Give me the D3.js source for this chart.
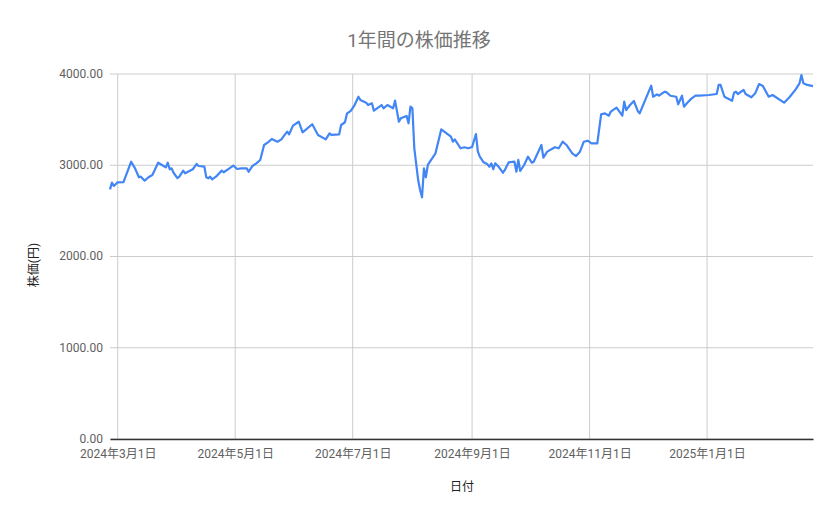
<!DOCTYPE html>
<html>
<head>
<meta charset="utf-8">
<script src="https://cdn.jsdelivr.net/npm/d3@7"></script>
<style>
  body { margin: 0; background: #fff; }
  text { font-family: Roboto, "Noto Sans CJK JP", sans-serif; }
</style>
</head>
<body>
<svg id="chart" width="839" height="519"></svg>
<script>
// dates (approx. positions of the line's corners)
var dates = [
  "2024-02-26","2024-02-27","2024-02-28","2024-03-01","2024-03-04","2024-03-08","2024-03-10","2024-03-12",
  "2024-03-13","2024-03-15","2024-03-17","2024-03-19","2024-03-22","2024-03-24","2024-03-26","2024-03-27",
  "2024-03-28","2024-03-29","2024-03-30","2024-04-01","2024-04-02","2024-04-04","2024-04-05","2024-04-09",
  "2024-04-11","2024-04-12","2024-04-15","2024-04-16","2024-04-17","2024-04-18","2024-04-19","2024-04-21",
  "2024-04-24","2024-04-25","2024-04-28","2024-04-30","2024-05-02","2024-05-04","2024-05-07","2024-05-08",
  "2024-05-10","2024-05-12","2024-05-14","2024-05-16","2024-05-18","2024-05-20","2024-05-23","2024-05-25",
  "2024-05-26","2024-05-28","2024-05-29","2024-05-31","2024-06-03","2024-06-05","2024-06-10","2024-06-13",
  "2024-06-17","2024-06-19","2024-06-20","2024-06-24","2024-06-25","2024-06-27","2024-06-28","2024-06-30",
  "2024-07-02","2024-07-04","2024-07-05","2024-07-08","2024-07-09","2024-07-11","2024-07-12","2024-07-16",
  "2024-07-17","2024-07-19","2024-07-22","2024-07-23","2024-07-25","2024-07-26","2024-07-29","2024-07-30",
  "2024-07-31","2024-08-01","2024-08-02","2024-08-04","2024-08-05","2024-08-06","2024-08-07","2024-08-08",
  "2024-08-09","2024-08-13","2024-08-16","2024-08-21","2024-08-22","2024-08-23","2024-08-26","2024-08-28",
  "2024-08-30","2024-09-01","2024-09-03","2024-09-04","2024-09-05","2024-09-07","2024-09-09","2024-09-10",
  "2024-09-11","2024-09-12","2024-09-13","2024-09-15","2024-09-17","2024-09-18","2024-09-20","2024-09-23",
  "2024-09-24","2024-09-25","2024-09-26","2024-09-28","2024-09-30","2024-10-02","2024-10-03","2024-10-07",
  "2024-10-08","2024-10-10","2024-10-14","2024-10-16","2024-10-18","2024-10-20","2024-10-23","2024-10-25",
  "2024-10-27","2024-10-29","2024-10-31","2024-11-02","2024-11-05","2024-11-07","2024-11-09","2024-11-11",
  "2024-11-12","2024-11-15","2024-11-18","2024-11-19","2024-11-20","2024-11-22","2024-11-24","2024-11-26",
  "2024-11-27","2024-12-03","2024-12-04","2024-12-06","2024-12-07","2024-12-10","2024-12-11","2024-12-13",
  "2024-12-16","2024-12-17","2024-12-19","2024-12-20","2024-12-22","2024-12-24","2024-12-26","2024-12-28",
  "2025-01-02","2025-01-06","2025-01-07","2025-01-08","2025-01-10","2025-01-14","2025-01-15","2025-01-16",
  "2025-01-17","2025-01-20","2025-01-21","2025-01-24","2025-01-26","2025-01-28","2025-01-30","2025-02-02",
  "2025-02-04","2025-02-10","2025-02-13","2025-02-16","2025-02-18","2025-02-19","2025-02-20","2025-02-22",
  "2025-02-25"
];
var prices = [
  2736,2809,2773,2813,2816,3039,2966,2868,
  2875,2831,2868,2893,3028,3003,2977,3028,
  2956,2966,2918,2860,2875,2941,2912,2956,
  3014,2992,2984,2868,2857,2875,2846,2875,
  2941,2923,2966,2997,2959,2966,2966,2929,
  2992,3021,3058,3222,3251,3288,3258,3284,
  3313,3368,3339,3434,3477,3361,3449,3332,
  3284,3350,3332,3339,3441,3471,3565,3596,
  3660,3751,3715,3686,3660,3679,3598,3660,
  3624,3660,3624,3708,3477,3514,3540,3460,
  3642,3624,3186,2838,2729,2649,2966,2868,
  3003,3131,3394,3313,3258,3284,3186,3197,
  3186,3200,3342,3149,3094,3032,3010,2984,
  3021,2956,3021,2977,2918,2948,3032,3039,
  2929,3058,2937,3003,3094,3028,3039,3222,
  3083,3149,3197,3186,3258,3222,3131,3101,
  3149,3258,3269,3240,3240,3558,3569,3543,
  3587,3631,3543,3697,3605,3660,3704,3595,
  3569,3872,3751,3777,3762,3806,3799,3762,
  3751,3668,3762,3642,3690,3733,3762,3762,
  3770,3781,3880,3880,3751,3707,3795,3806,
  3781,3825,3781,3745,3788,3890,3868,3751,
  3770,3686,3751,3832,3898,3989,3898,3880,
  3868
];
var yTicks = [0, 1000, 2000, 3000, 4000];
var xTicks = ["2024-03-01","2024-05-01","2024-07-01","2024-09-01","2024-11-01","2025-01-01"];

var svg = d3.select('#chart');
var m = {top: 74, left: 110, right: 26, bottom: 80};
var W = 839, H = 519;
var parse = d3.timeParse("%Y-%m-%d");
var data = dates.map(function(d, i){ return {date: parse(d), v: prices[i]}; });

var x = d3.scaleTime()
  .domain([parse("2024-02-26"), parse("2025-02-25")])
  .range([m.left, W - m.right]);
var y = d3.scaleLinear().domain([0, 4000]).range([H - m.bottom, m.top]);

// gridlines
svg.append('g').selectAll('line.hg').data(yTicks).enter().append('line')
  .attr('x1', m.left).attr('x2', W - m.right)
  .attr('y1', function(d){ return y(d); }).attr('y2', function(d){ return y(d); })
  .attr('stroke', '#cccccc').attr('stroke-width', 1);
svg.append('g').selectAll('line.vg').data(xTicks).enter().append('line')
  .attr('x1', function(d){ return x(parse(d)); }).attr('x2', function(d){ return x(parse(d)); })
  .attr('y1', m.top).attr('y2', H - m.bottom)
  .attr('stroke', '#cccccc').attr('stroke-width', 1);

// y axis labels
var yAxis = d3.axisLeft(y).tickValues(yTicks).tickSize(0).tickPadding(7)
  .tickFormat(function(d){ return d3.format(".2f")(d); });
var ya = svg.append('g').attr('transform', 'translate(' + m.left + ',0)').call(yAxis);
ya.select('.domain').remove();
ya.selectAll('text').attr('fill', '#5f5f5f').style('font-size', '12px')
  .attr('dy', '0.28em')
  .style('font-family', 'Roboto, sans-serif');

// x axis
var fmt = d3.timeFormat("%Y年%-m月%-d日");
var xAxis = d3.axisBottom(x).tickValues(xTicks.map(parse)).tickSize(0).tickPadding(10)
  .tickFormat(fmt);
var xa = svg.append('g').attr('transform', 'translate(0,' + (H - m.bottom) + ')').call(xAxis);
xa.select('.domain').attr('stroke', '#333333').attr('stroke-width', 1.3);
xa.selectAll('text').attr('fill', '#5f5f5f').style('font-size', '12px')
  .style('font-family', 'Roboto, "Noto Sans CJK JP", sans-serif');

// line
var line = d3.line().x(function(d){ return x(d.date); }).y(function(d){ return y(d.v); });
svg.append('path').datum(data)
  .attr('d', line)
  .attr('fill', 'none')
  .attr('stroke', '#4285f4')
  .attr('stroke-width', 2.2)
  .attr('stroke-linejoin', 'round');

// titles
svg.append('text').attr('x', 419).attr('y', 47).attr('text-anchor', 'middle')
  .attr('fill', '#757575').style('font-size', '19px')
  .text('1年間の株価推移');
svg.append('text').attr('x', 462).attr('y', 491).attr('text-anchor', 'middle')
  .attr('fill', '#222222').style('font-size', '12px')
  .text('日付');
svg.append('text').attr('transform', 'translate(38,265) rotate(-90)').attr('text-anchor', 'middle')
  .attr('fill', '#222222').style('font-size', '12px')
  .text('株価(円)');
</script>
</body>
</html>
